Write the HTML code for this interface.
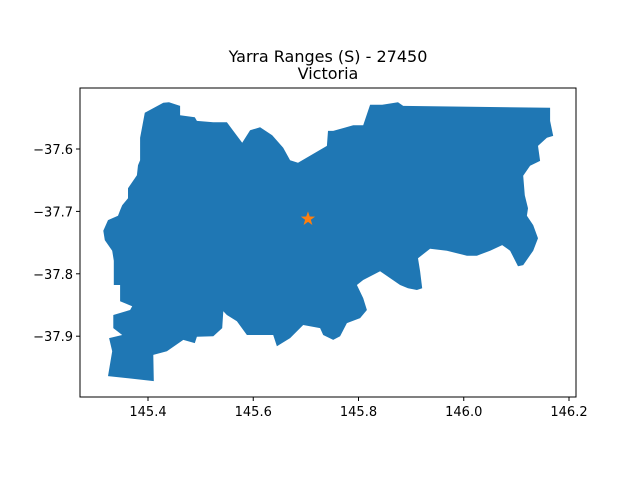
<!DOCTYPE html>
<html><head><meta charset="utf-8"><style>
body{margin:0;background:#fff;}
svg{display:block;font-family:"DejaVu Sans","Liberation Sans",sans-serif;}
</style></head><body>
<svg id="chart" width="640" height="480">
<rect width="640" height="480" fill="#fff"/>
<text x="328" y="62" font-size="16" text-anchor="middle">Yarra Ranges (S) - 27450</text>
<text x="328" y="79" font-size="16" text-anchor="middle">Victoria</text>
<g id="plot"></g>
<rect x="80" y="88" width="496" height="309" fill="none" stroke="#000" stroke-width="1"/>
<g id="axes"></g>
</svg>
<script>
const lons=[145.394,145.429,145.440,145.461,145.461,145.489,145.493,145.524,145.550,145.562,145.579,145.594,145.613,145.636,145.657,145.670,145.685,145.740,145.742,145.752,145.790,145.809,145.822,145.845,145.875,145.885,146.164,146.164,146.170,146.158,146.141,146.145,146.126,146.113,146.116,146.122,146.120,146.132,146.141,146.132,146.113,146.103,146.088,146.073,146.050,146.025,146.006,145.987,145.968,145.936,145.913,145.917,145.921,145.911,145.894,145.879,145.841,145.809,145.797,145.809,145.816,145.803,145.778,145.765,145.752,145.733,145.727,145.695,145.670,145.645,145.638,145.588,145.569,145.550,145.543,145.541,145.524,145.493,145.489,145.467,145.436,145.410,145.411,145.324,145.332,145.326,145.351,145.334,145.334,145.366,145.370,145.347,145.347,145.335,145.335,145.332,145.318,145.315,145.324,145.343,145.347,145.351,145.362,145.362,145.379,145.381,145.385,145.385];
const lats=[-37.542,-37.526,-37.525,-37.531,-37.546,-37.549,-37.555,-37.557,-37.557,-37.571,-37.590,-37.570,-37.565,-37.578,-37.598,-37.618,-37.622,-37.595,-37.571,-37.571,-37.562,-37.562,-37.529,-37.529,-37.525,-37.531,-37.534,-37.555,-37.579,-37.582,-37.595,-37.619,-37.627,-37.643,-37.674,-37.695,-37.707,-37.722,-37.743,-37.763,-37.786,-37.788,-37.763,-37.754,-37.763,-37.771,-37.771,-37.767,-37.763,-37.760,-37.775,-37.796,-37.823,-37.826,-37.823,-37.818,-37.796,-37.810,-37.818,-37.839,-37.858,-37.871,-37.879,-37.900,-37.906,-37.898,-37.887,-37.882,-37.903,-37.916,-37.898,-37.898,-37.876,-37.866,-37.860,-37.887,-37.900,-37.901,-37.911,-37.906,-37.924,-37.930,-37.972,-37.964,-37.924,-37.903,-37.898,-37.887,-37.866,-37.858,-37.852,-37.844,-37.818,-37.818,-37.779,-37.763,-37.746,-37.731,-37.714,-37.707,-37.698,-37.690,-37.679,-37.663,-37.642,-37.626,-37.618,-37.582];
const centroid=[145.704,-37.712];
const xTicks=[145.4,145.6,145.8,146.0,146.2];
const yTicks=[-37.6,-37.7,-37.8,-37.9];
const NS="http://www.w3.org/2000/svg";
function sx(v){return 148+(v-145.4)*526.25;}
function sy(v){return 149-(v+37.6)*624;}
const plot=document.getElementById('plot'),axes=document.getElementById('axes');
let d=lons.map((lo,i)=>(i?'L':'M')+sx(lo).toFixed(1)+' '+sy(lats[i]).toFixed(1)).join(' ')+'Z';
const poly=document.createElementNS(NS,'path');
poly.setAttribute('d',d);poly.setAttribute('fill','#1f77b4');


plot.appendChild(poly);
const cx=sx(centroid[0]),cy=sy(centroid[1]);
let sp=[];for(let k=0;k<10;k++){const r=k%2?3:7.5,a=-Math.PI/2+k*Math.PI/5;sp.push((cx+r*Math.cos(a)).toFixed(1)+','+(cy+r*Math.sin(a)).toFixed(1));}
const star=document.createElementNS(NS,'polygon');
star.setAttribute('points',sp.join(' '));star.setAttribute('fill','#ff7f0e');


plot.appendChild(star);
xTicks.forEach(t=>{const x=sx(t);
const l=document.createElementNS(NS,'line');l.setAttribute('x1',x);l.setAttribute('x2',x);l.setAttribute('y1',397);l.setAttribute('y2',401);l.setAttribute('stroke','#000');


axes.appendChild(l);
const tx=document.createElementNS(NS,'text');tx.setAttribute('x',x);tx.setAttribute('y',416);tx.setAttribute('font-size','13');tx.setAttribute('text-anchor','middle');tx.textContent=t.toFixed(1);


axes.appendChild(tx);});
yTicks.forEach(t=>{const y=sy(t);
const l=document.createElementNS(NS,'line');l.setAttribute('x1',76);l.setAttribute('x2',80);l.setAttribute('y1',y);l.setAttribute('y2',y);l.setAttribute('stroke','#000');


axes.appendChild(l);
const tx=document.createElementNS(NS,'text');tx.setAttribute('x',73);tx.setAttribute('y',y+5);tx.setAttribute('font-size','13');tx.setAttribute('text-anchor','end');tx.textContent='\u2212'+Math.abs(t).toFixed(1);


axes.appendChild(tx);});
</script>
</body></html>
